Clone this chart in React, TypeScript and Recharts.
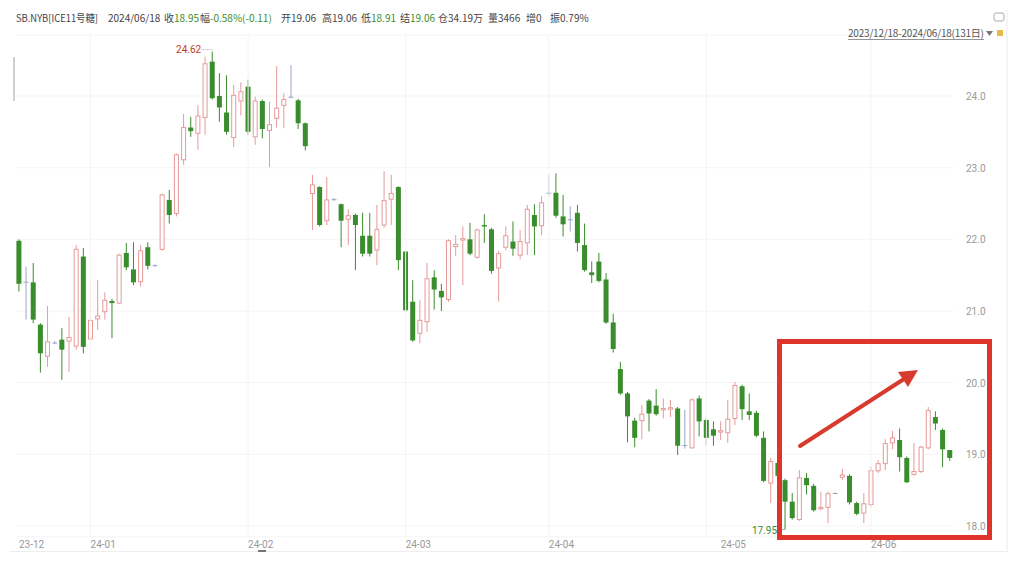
import React from 'react';
import { ComposedChart, Bar, XAxis, YAxis, CartesianGrid, ReferenceLine } from 'recharts';

// daily OHLC, 2023/12/18 - 2024/06/18 (131 sessions)
const opens = [
  21.98, 21.41, 21.40, 20.81, 20.37, 20.56, 20.60, 20.58, 20.51, 21.76,
  20.61, 20.89, 20.99, 21.14, 21.11, 21.81, 21.58, 21.41, 21.89, 21.64,
  21.86, 22.55, 22.36, 23.11, 23.56, 23.48, 23.70, 24.48, 24.00, 23.77,
  23.42, 23.93, 24.13, 23.43, 23.93, 23.52, 23.69, 23.87, 23.99, 23.94,
  23.62, 22.64, 22.73, 22.26, 22.56, 22.49, 22.28, 22.34, 22.05, 22.05,
  21.85, 22.20, 22.56, 22.73, 21.83, 21.13, 20.69, 20.85, 21.47, 21.28,
  21.16, 21.90, 21.99, 22.00, 21.75, 22.20, 22.14, 21.60, 21.89, 21.97,
  21.78, 21.95, 22.34, 22.19, 22.65, 22.65, 22.32, 22.28, 22.37, 21.92,
  21.54, 21.69, 21.44, 20.84, 20.19, 19.85, 19.47, 19.47, 19.75, 19.68,
  19.62, 19.63, 19.64, 19.13, 19.09, 19.78, 19.48, 19.35, 19.31, 19.30,
  19.50, 19.95, 19.60, 19.58, 19.23, 18.60, 18.88, 18.64, 18.34, 18.09,
  18.67, 18.56, 18.24, 18.26, 18.46, 18.68, 18.70, 18.32, 18.18, 18.30,
  18.77, 18.87, 19.16, 19.20, 18.95, 18.72, 18.76, 19.09, 19.52, 19.34,
  19.06,
];
const highs = [
  22.00, 21.62, 21.67, 20.83, 21.07, 20.58, 20.76, 20.92, 21.92, 21.88,
  21.39, 21.43, 21.26, 21.17, 21.80, 21.95, 21.96, 21.92, 21.96, 21.65,
  22.64, 22.69, 23.20, 23.75, 23.71, 23.87, 24.55, 24.62, 24.32, 24.29,
  24.15, 24.19, 24.23, 23.99, 23.95, 23.92, 24.42, 24.04, 24.43, 23.96,
  23.63, 22.90, 22.74, 22.87, 22.58, 22.50, 22.42, 22.36, 22.37, 22.37,
  22.48, 22.95, 22.90, 22.74, 21.84, 21.43, 21.15, 21.67, 21.57, 21.38,
  22.00, 22.06, 22.18, 22.23, 22.15, 22.35, 22.16, 21.84, 22.18, 22.25,
  22.13, 22.48, 22.49, 22.60, 22.90, 22.92, 22.62, 22.46, 22.48, 22.22,
  21.69, 21.81, 21.53, 20.96, 20.29, 19.87, 19.51, 19.69, 19.77, 19.91,
  19.78, 19.76, 19.66, 19.62, 19.78, 19.82, 19.51, 19.46, 19.46, 19.76,
  20.01, 19.97, 19.85, 19.61, 19.32, 18.95, 18.95, 18.66, 18.46, 18.78,
  18.74, 18.59, 18.48, 18.48, 18.47, 18.80, 18.72, 18.34, 18.46, 18.83,
  18.92, 19.21, 19.33, 19.36, 18.97, 19.16, 19.12, 19.66, 19.60, 19.36,
  19.06,
];
const lows = [
  21.27, 20.88, 20.83, 20.14, 20.22, 20.54, 20.04, 20.15, 20.46, 20.41,
  20.59, 20.74, 20.88, 20.62, 21.10, 21.57, 21.36, 21.34, 21.58, 21.62,
  21.84, 22.22, 22.32, 23.04, 23.43, 23.25, 23.46, 23.95, 23.64, 23.46,
  23.29, 23.73, 23.46, 23.32, 23.41, 23.01, 23.56, 23.55, 23.97, 23.54,
  23.24, 22.13, 22.18, 22.20, 22.54, 21.89, 21.92, 21.57, 21.76, 21.76,
  21.64, 22.16, 22.20, 21.57, 20.98, 20.57, 20.55, 20.71, 21.02, 21.00,
  21.13, 21.77, 21.36, 21.78, 21.73, 21.95, 21.52, 21.13, 21.85, 21.77,
  21.72, 21.78, 21.78, 22.06, 22.60, 22.30, 22.04, 22.11, 21.83, 21.55,
  21.39, 21.40, 20.82, 20.42, 19.83, 19.17, 19.10, 19.21, 19.32, 19.54,
  19.50, 19.52, 18.99, 19.08, 19.08, 19.25, 19.12, 19.12, 19.20, 19.16,
  19.41, 19.48, 19.48, 19.24, 18.61, 18.32, 18.55, 17.95, 18.09, 18.07,
  18.44, 18.20, 18.22, 18.04, 18.45, 18.64, 18.30, 18.15, 18.04, 18.26,
  18.74, 18.78, 19.07, 18.76, 18.60, 18.70, 18.74, 19.07, 19.34, 18.82,
  18.91,
];
const closes = [
  21.38, 21.41, 20.88, 20.41, 20.57, 20.56, 20.46, 20.63, 21.86, 20.50,
  20.87, 20.93, 21.15, 21.11, 21.78, 21.61, 21.40, 21.84, 21.63, 21.64,
  22.62, 22.34, 23.18, 23.56, 23.51, 23.72, 24.45, 23.97, 23.84, 23.50,
  24.01, 24.06, 23.50, 23.93, 23.54, 23.60, 23.83, 23.95, 23.99, 23.62,
  23.30, 22.76, 22.20, 22.55, 22.56, 22.26, 22.33, 22.20, 21.80, 21.80,
  22.14, 22.54, 22.64, 21.71, 21.01, 20.59, 20.87, 21.45, 21.30, 21.19,
  21.98, 21.93, 22.01, 21.80, 22.13, 22.18, 21.56, 21.80, 22.05, 21.87,
  21.97, 22.42, 22.18, 22.51, 22.65, 22.33, 22.21, 22.28, 21.95, 21.57,
  21.50, 21.42, 20.84, 20.47, 19.85, 19.53, 19.23, 19.56, 19.57, 19.56,
  19.64, 19.65, 19.12, 19.13, 19.76, 19.46, 19.23, 19.26, 19.33, 19.49,
  19.96, 19.63, 19.55, 19.26, 18.63, 18.90, 18.70, 18.34, 18.11, 18.67,
  18.57, 18.22, 18.26, 18.45, 18.46, 18.71, 18.33, 18.17, 18.31, 18.77,
  18.87, 19.15, 19.23, 18.96, 18.61, 18.76, 19.10, 19.61, 19.43, 19.07,
  18.95,
];

const priceTicks = [18, 19, 20, 21, 22, 23, 24];
const monthLabels = ['23-12', '24-01', '24-02', '24-03', '24-04', '24-05', '24-06'];
const monthLabelIdx = [0, 10, 32, 54, 74, 98, 119];
const monthGridIdx = [10, 32, 54, 74, 96, 119];

const UP = '#e69a9a';
const DOWN = '#3a8d2c';
const FLAT = '#9aa6c4';

const data = opens.map((o, i) => ({
  i,
  open: o,
  high: highs[i],
  low: lows[i],
  close: closes[i],
}));
const maxHigh = Math.max(...highs);
const minLow = Math.min(...lows);

function Candle(props: any) {
  const { x, y, width, height, payload } = props;
  const { open, close, high, low } = payload;
  const top = Math.min(y, y + height);
  const h = Math.abs(height);
  const k = h / (high - low);
  const yOf = (v: number) => top + (high - v) * k;
  const cx = x + width / 2;
  const color = close > open ? UP : close < open ? DOWN : FLAT;
  const bTop = yOf(Math.max(open, close));
  const bH = Math.max(1, yOf(Math.min(open, close)) - bTop);
  return (
    <g>
      <line x1={cx} x2={cx} y1={yOf(high)} y2={yOf(low)} stroke={color} strokeWidth={1} />
      {close > open ? (
        <rect x={x + 0.5} y={bTop} width={width - 1} height={bH} fill="#fff" stroke={UP} strokeWidth={1} />
      ) : (
        <rect x={x} y={bTop} width={width} height={bH} fill={color} />
      )}
      {high === maxHigh && (
        <g>
          <line x1={cx - 11} x2={cx} y1={yOf(high) - 2} y2={yOf(high) - 2} stroke="#c9a0a0" strokeDasharray="1 1" />
          <text x={cx - 11} y={yOf(high) + 1} textAnchor="end" fontSize={10} fill="#c0392b" fontFamily="Roboto">
            {high.toFixed(2)}
          </text>
        </g>
      )}
      {low === minLow && (
        <g>
          <line x1={cx - 8} x2={cx} y1={yOf(low)} y2={yOf(low)} stroke="#9ab89a" />
          <text x={cx - 8} y={yOf(low) + 4} textAnchor="end" fontSize={10} fill="#3a8d2c" fontFamily="Roboto">
            {low.toFixed(2)}
          </text>
        </g>
      )}
    </g>
  );
}

function MonthTick(props: any) {
  const { x, payload } = props;
  const k = monthLabelIdx.indexOf(payload.value);
  return (
    <text x={x} y={548} textAnchor="start" fontSize={10} fill="#999" fontFamily="Roboto">
      {monthLabels[k]}
    </text>
  );
}

function PriceTick(props: any) {
  const { y, payload } = props;
  return (
    <text x={966} y={y + 4} textAnchor="start" fontSize={10} fill="#999" fontFamily="Roboto">
      {payload.value.toFixed(1)}
    </text>
  );
}

export default function App() {
  const hdr = { fontFamily: '"Noto Sans CJK SC", "Noto Sans", sans-serif', fontSize: 10 };
  const G = '#3a8d2c';
  const T = '#444';
  return (
    <div style={{ position: 'absolute', left: 0, top: 0, width: 1018, height: 564, background: '#fff' }}>
      <ComposedChart
        width={1018}
        height={564}
        data={data}
        margin={{ top: 35.1, right: 0, left: 15.4, bottom: 0 }}
        barCategoryGap={1}
      >
        <CartesianGrid vertical={false} stroke="#f4f4f4" />
        {monthGridIdx.map((m) => (
          <ReferenceLine key={m} x={m} stroke="#f4f4f4" />
        ))}
        <XAxis
          dataKey="i"
          type="category"
          height={27.25}
          ticks={monthLabelIdx}
          interval={0}
          tick={<MonthTick />}
          tickLine={false}
          axisLine={false}
        />
        <YAxis
          orientation="right"
          domain={[17.85, 24.85]}
          ticks={priceTicks}
          width={64.6}
          tick={<PriceTick />}
          tickLine={false}
          axisLine={false}
        />
        <Bar
          dataKey={(d: any) => [d.low, d.high]}
          barSize={5}
          shape={<Candle />}
          isAnimationActive={false}
        />
      </ComposedChart>

      <svg width={1018} height={564} style={{ position: 'absolute', left: 0, top: 0, pointerEvents: 'none' }}>
        <g style={hdr}>
          <text x={16} y={22} fill={T} textLength={82} lengthAdjust="spacingAndGlyphs">SB.NYB[ICE11号糖]</text>
          <text x={108} y={22} fill={T}>2024/06/18</text>
          <text x={164} y={22} fill={T}>收<tspan fill={G}>18.95</tspan></text>
          <text x={200} y={22} fill={T}>幅<tspan fill={G}>-0.58%(-0.11)</tspan></text>
          <text x={281} y={22} fill={T}>开19.06</text>
          <text x={322} y={22} fill={T}>高19.06</text>
          <text x={361} y={22} fill={T}>低<tspan fill={G}>18.91</tspan></text>
          <text x={400} y={22} fill={T}>结<tspan fill={G}>19.06</tspan></text>
          <text x={438} y={22} fill={T}>仓34.19万</text>
          <text x={488} y={22} fill={T}>量3466</text>
          <text x={526} y={22} fill={T}>增0</text>
          <text x={550} y={22} fill={T}>振0.79%</text>
        </g>
        <text x={848} y={37} fill="#555" style={{ ...hdr, fontSize: 10 }} textLength={136}>
          2023/12/18-2024/06/18(131日)
        </text>
        <line x1={848} x2={984} y1={39.5} y2={39.5} stroke="#777" strokeWidth={0.8} />
        <path d="M986 31 L993 31 L989.5 36 Z" fill="#777" />
        <rect x={994} y={13} width={10} height={8} rx={2} fill="none" stroke="#aaa" strokeWidth={1} />
        <rect x={997} y={30} width={6} height={6} fill="#e8b84a" />

        <rect x={13} y={57} width={2} height={44} fill="#cfcfcf" />
        <line x1={1007} x2={1007} y1={10} y2={552} stroke="#ececec" />
        <line x1={10} x2={1007} y1={551.5} y2={551.5} stroke="#eeeeee" />
        <rect x={258} y={550} width={8} height={2} fill="#777" />

        <rect x={779.5} y={341.5} width={210} height={196} fill="none" stroke="#e0342a" strokeWidth={5} />
        <line x1={800} y1={446} x2={904} y2={379} stroke="#d93a2e" strokeWidth={4} strokeLinecap="round" />
        <path d="M918 370 L898 372 L908 387 Z" fill="#d93a2e" />
      </svg>
    </div>
  );
}
